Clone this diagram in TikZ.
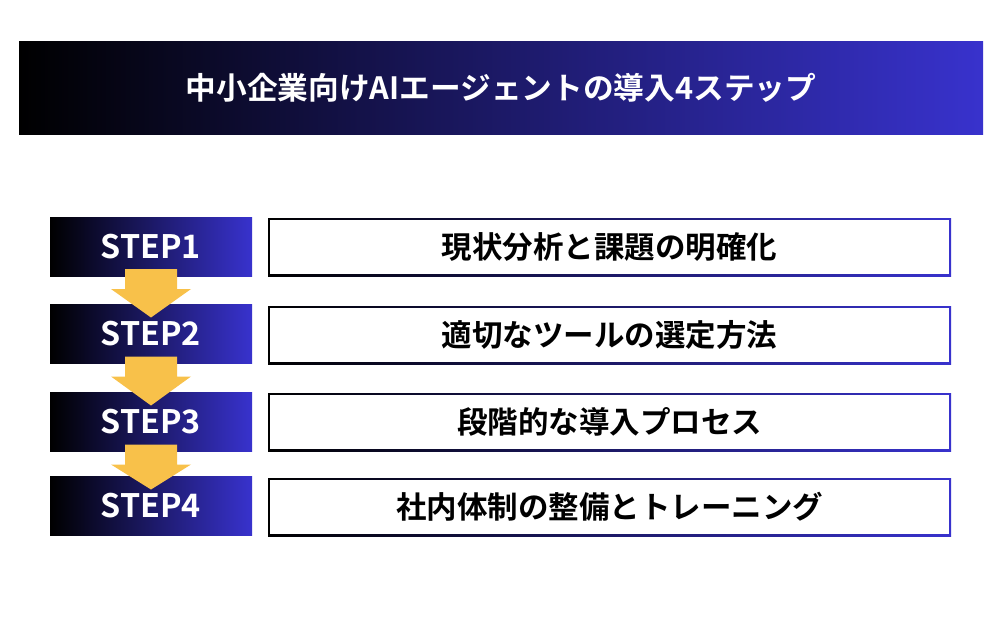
\documentclass[tikz,border=0pt]{standalone}
\usepackage{fontspec}
\setmainfont{Noto Sans CJK JP}[BoldFont={Noto Sans CJK JP Bold}]
\usetikzlibrary{calc}
\definecolor{gdark}{RGB}{0,0,0}
\definecolor{gblue}{RGB}{56,50,205}
\definecolor{arrowy}{RGB}{248,193,74}
\tikzset{
  x=1pt,y=1pt,
  grad/.style={left color=gdark,right color=gblue,draw=none,inner sep=0pt,outer sep=0pt},
  stepbox/.style={grad,minimum width=202pt,minimum height=59pt,text=white,font=\bfseries\fontsize{32.3}{32}\selectfont},
  outerbox/.style={grad,minimum width=683pt,minimum height=58pt},
  innerbox/.style={fill=white,draw=none,inner sep=0pt,minimum width=679pt,minimum height=54pt,font=\bfseries\fontsize{30.5}{30}\selectfont,text=black},
  arr/.style={fill=arrowy,draw=none},
}
\begin{document}
\begin{tikzpicture}
\useasboundingbox[fill=white] (0,0) rectangle (1000,-625);
% title
\node[grad,minimum width=964pt,minimum height=93pt,text=white,font=\bfseries\fontsize{30.7}{30}\selectfont] (title) at (501,-87.5) {中小企業向けAIエージェントの導入4ステップ};
% step boxes
\node[stepbox] (s1) at (151,-246.5) {STEP1};
\node[stepbox] (s2) at (151,-334) {STEP2};
\node[stepbox] (s3) at (151,-422) {STEP3};
\node[stepbox] (s4) at (151,-506) {STEP4};
% content boxes
\node[outerbox] (o1) at (609.5,-247) {};
\node[innerbox] (c1) at (o1) {現状分析と課題の明確化};
\node[outerbox] (o2) at (609.5,-335) {};
\node[innerbox] (c2) at (o2) {適切なツールの選定方法};
\node[outerbox] (o3) at (609.5,-422) {};
\node[innerbox] (c3) at (o3) {段階的な導入プロセス};
\node[outerbox] (o4) at (609.5,-507) {};
\node[innerbox] (c4) at (o4) {社内体制の整備とトレーニング};
% arrows
\foreach \a/\b in {s1/s2,s2/s3,s3/s4}{
  \fill[arr] ($(\a.south)+(-26,7)$) -- ($(\a.south)+(26,7)$) -- ($(\a.south)+(26,-13)$)
    -- ($(\a.south)+(40,-13)$) -- ($(\b.north)+(0,-13)$) -- ($(\a.south)+(-40,-13)$)
    -- ($(\a.south)+(-26,-13)$) -- cycle;
}
\end{tikzpicture}
\end{document}
